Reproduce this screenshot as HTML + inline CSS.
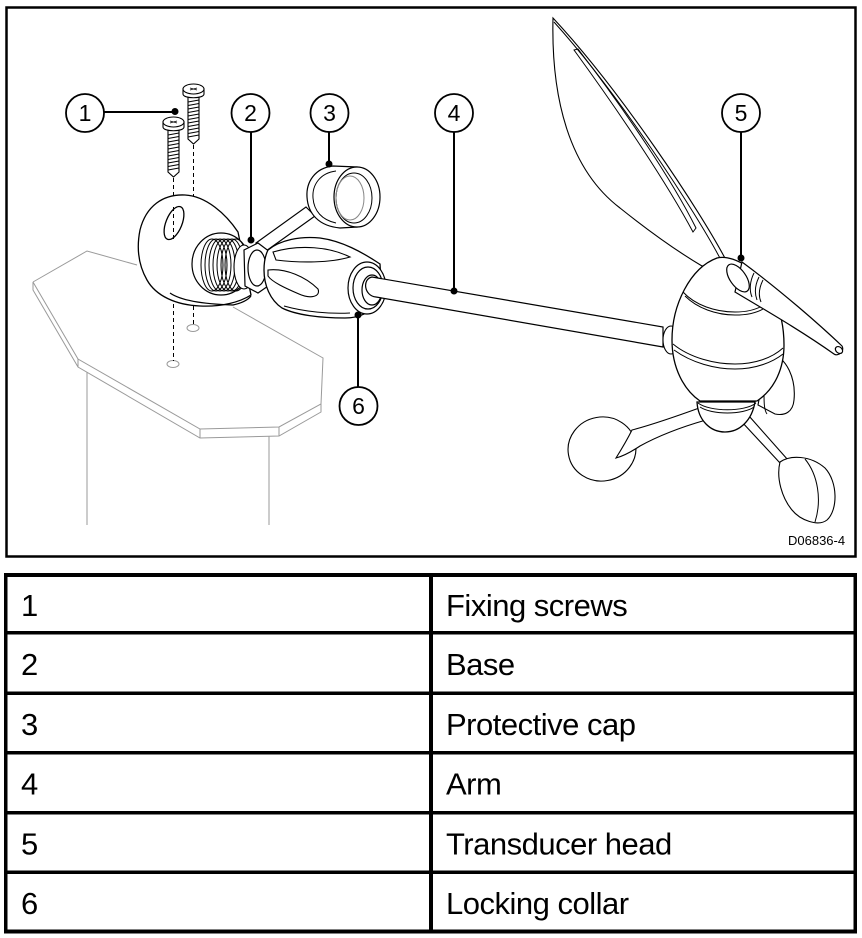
<!DOCTYPE html>
<html><head><meta charset="utf-8"><style>
html,body{margin:0;padding:0;background:#fff;}
svg{display:block;}
.t{font-family:"Liberation Sans",Arial,sans-serif;font-size:31px;letter-spacing:-0.5px;fill:#000;}
.c{font-family:"Liberation Sans",Arial,sans-serif;font-size:23px;fill:#000;text-anchor:middle;}
</style></head><body>
<svg width="862" height="938" viewBox="0 0 862 938" xmlns="http://www.w3.org/2000/svg">
<rect x="0" y="0" width="862" height="938" fill="#fff"/>
<!-- frame -->
<rect x="6.5" y="7.5" width="849" height="549" fill="none" stroke="#000" stroke-width="2.5"/>

<!-- platform (gray) -->
<g fill="none" stroke="#9a9a9a" stroke-width="1">
<path d="M33 282 L87 251 L137 265"/>
<path d="M233 307 L323 358 L321 404 L279 427 L200 429 L78 359 L33 282"/>
<path d="M33 282 L33 290 L78 367 L200 438 L279 436 L321 412 L321 404"/>
<path d="M78 359 L78 367 M200 429 L200 438 M279 427 L279 436"/>
<path d="M87 372 L87 525 M269 436 L269 525"/>
<ellipse cx="173" cy="364" rx="6" ry="3.5"/>
<ellipse cx="193" cy="328" rx="6" ry="3.5"/>
</g>

<!-- dashed lines -->
<g stroke="#000" stroke-width="1" stroke-dasharray="4,3" fill="none">
<path d="M173.5 178 L173.5 361"/>
<path d="M193.5 145 L193.5 325"/>
</g>

<!-- screws -->
<g stroke="#000" stroke-width="1.1" fill="#fff">
<path d="M168 129 L168 172 L173.5 177 L179 172 L179 129 Z"/>
<path d="M163 122 L163 127 C163 132 184 132 184 127 L184 122 Z"/>
<ellipse cx="173.5" cy="122" rx="10.5" ry="5"/>
<path d="M188 96 L188 139 L193.5 144 L199 139 L199 96 Z"/>
<path d="M183 89 L183 94 C183 99 204 99 204 94 L204 89 Z"/>
<ellipse cx="193.5" cy="89" rx="10.5" ry="5"/>
</g>
<g stroke="#000" stroke-width="0.9" fill="none">
<path d="M170 121 l7 2 M170 123 l7 -2 M190 88 l7 2 M190 90 l7 -2"/>
<path d="M168 135 l11 -2 M168 138.5 l11 -2 M168 142 l11 -2 M168 145.5 l11 -2 M168 149 l11 -2 M168 152.5 l11 -2 M168 156 l11 -2 M168 159.5 l11 -2 M168 163 l11 -2 M168 166.5 l11 -2 M168 170 l11 -2"/>
<path d="M188 102 l11 -2 M188 105.5 l11 -2 M188 109 l11 -2 M188 112.5 l11 -2 M188 116 l11 -2 M188 119.5 l11 -2 M188 123 l11 -2 M188 126.5 l11 -2 M188 130 l11 -2 M188 133.5 l11 -2 M188 137 l11 -2"/>
</g>

<!-- base -->
<g stroke="#000" stroke-width="1.3" fill="#fff">
<path d="M238 232 C226 214 206 196 185 195 C163 194 146 206 140 230 C136 250 139 266 147 280 C156 296 176 305 200 306 C222 307 240 302 251 295 Z"/>
<ellipse cx="174" cy="223" rx="8" ry="17.5" transform="rotate(22 174 223)"/>
</g>
<path d="M173.5 207 L173.5 239" stroke="#000" stroke-width="1" stroke-dasharray="4,3"/>
<path d="M170 293 C180 300 200 304 233 305 C242 303 248 300 251 296" fill="none" stroke="#000" stroke-width="1.2"/>
<!-- thread -->
<g stroke="#000" stroke-width="1.2" fill="#fff">
<ellipse cx="221" cy="264" rx="29" ry="31"/>
</g>
<g stroke="#000" stroke-width="1" fill="none">
<ellipse cx="212" cy="265" rx="11" ry="26"/>
<ellipse cx="216" cy="265" rx="11" ry="26"/>
<ellipse cx="220" cy="265" rx="11" ry="26"/>
<ellipse cx="224" cy="265" rx="11" ry="26"/>
<ellipse cx="228" cy="265" rx="11" ry="26"/>
<ellipse cx="232" cy="265" rx="11" ry="26"/>
<ellipse cx="236" cy="265" rx="11" ry="26"/>
</g>
<ellipse cx="244" cy="267" rx="10" ry="22" fill="#fff" stroke="#000" stroke-width="1.1"/>

<!-- cap strap -->
<path d="M256 243 L306 207 L315 216 L266 251 Z" fill="#fff" stroke="#000" stroke-width="1.1"/>
<!-- cap -->
<g stroke="#000" stroke-width="1.2" fill="#fff">
<path d="M333 166 C315 168 306 182 307 197 C308 214 319 226 340 228 L357 227 L357 167 Z"/>
<ellipse cx="357" cy="197" rx="23" ry="30"/>
</g>
<g stroke="#000" stroke-width="1" fill="none">
<path d="M336 171 C320 173 312 185 313 198 C314 211 322 220 336 223"/>
<ellipse cx="354" cy="198" rx="18" ry="25"/>
<ellipse cx="350" cy="198" rx="14" ry="22" stroke="#888"/>
</g>

<!-- hex -->
<g stroke="#000" stroke-width="1.2" fill="#fff">
<path d="M244 250 L258 243 L270 252 L271 284 L258 293 L245 286 Z"/>
<ellipse cx="257" cy="268" rx="9" ry="18"/>
</g>

<!-- grip / locking collar -->
<g stroke="#000" stroke-width="1.3" fill="#fff">
<path d="M268 250 C280 240 300 236 320 238 C342 241 362 252 380 264 L382 300 C372 312 360 318 345 318 C320 318 296 315 282 308 C270 300 264 285 264 270 C264 260 266 254 268 250 Z"/>
</g>
<g stroke="#000" stroke-width="1.1" fill="none">
<path d="M273 252 C300 244 330 247 350 257 C330 263 300 263 276 260 Z"/>
<path d="M268 270 C286 268 306 277 318 289 C321 297 310 299 299 294 C285 288 272 282 268 276 Z"/>
<path d="M284 306 C305 312 330 314 350 313"/>
</g>
<g stroke="#000" stroke-width="1.2" fill="#fff">
<ellipse cx="367" cy="288" rx="19" ry="26"/>
<ellipse cx="368" cy="288" rx="15" ry="21" fill="none"/>
<ellipse cx="372" cy="290" rx="10" ry="15"/>
</g>

<!-- arm -->
<path d="M372 277 L663 327 L663 347 L376 297 C364 296 362 279 372 277 Z" fill="#fff" stroke="#000" stroke-width="1.2"/>

<!-- vane fin -->
<g stroke="#000" stroke-width="1.1" fill="#fff">
<path d="M553 18 C551 100 570 170 620 208 C645 228 675 250 702 266 L727 262 C700 210 620 90 553 18 Z"/>
</g>
<g stroke="#000" stroke-width="1" fill="none">
<path d="M722 262 C695 210 617 92 554 22"/>
<path d="M574 50 C620 113 668 185 693 232 L696 228 C672 180 625 110 578 49 Z"/>
</g>

<!-- cup arms -->
<g stroke="#000" stroke-width="1.1" fill="#fff">
<ellipse cx="602" cy="449" rx="34" ry="32" transform="rotate(-10 602 449)"/>
<path d="M702 407 C680 415 655 424 632 430 C627 440 621 450 616 458 C624 456 631 452 640 446 C660 435 685 426 706 420 Z"/>
<path d="M741 421 L780 463 L788 460 L749 416 Z"/>
<path d="M780 462 C790 455 810 455 825 468 C838 482 838 510 827 520 C818 527 800 520 792 510 C782 498 776 478 780 462 Z"/>
</g>
<path d="M805 459 C818 475 822 500 815 522" fill="none" stroke="#000" stroke-width="1"/>

<!-- right fin -->
<path d="M768 352 C788 357 796 380 794 400 C793 412 785 416 775 414 L758 405 Z" fill="#fff" stroke="#000" stroke-width="1.1"/>
<path d="M764 392 C764 402 764 410 767 414" fill="none" stroke="#000" stroke-width="1"/>

<!-- knob -->
<ellipse cx="671" cy="340" rx="8" ry="14" fill="#fff" stroke="#000" stroke-width="1.1"/>

<!-- body -->
<g stroke="#000" stroke-width="1.3" fill="#fff">
<path d="M697 402 C698 420 710 432 725 432 C740 432 752 420 755 402 Z"/>
<path d="M717 258 C690 268 672 305 672 340 C672 368 684 390 700 401 L757 401 C775 389 784 368 784 345 C784 310 770 280 745 265 C735 259 725 256 717 258 Z"/>
</g>
<g stroke="#000" stroke-width="1" fill="none">
<path d="M683 292 C695 305 715 312 735 312 C745 312 755 310 762 306"/>
<path d="M685 296 C697 308 716 315 735 315 C746 315 756 313 763 309"/>
<path d="M673 344 C690 358 715 364 735 364 C755 364 772 358 783 348"/>
<path d="M674 350 C692 363 715 369 735 369 C756 369 773 362 783 354"/>
<path d="M698 403 C710 412 745 412 756 403"/>
<path d="M700 407 C712 415 743 415 754 407"/>
</g>

<!-- stick -->
<g stroke="#000" stroke-width="1.2" fill="#fff">
<path d="M742 262 C780 290 820 325 842 346 C845 351 838 357 834 354 C800 330 765 310 735 292 Z"/>
<ellipse cx="738" cy="278" rx="8" ry="16" transform="rotate(-35 738 278)"/>
<ellipse cx="839" cy="350" rx="4" ry="3" transform="rotate(40 839 350)"/>
</g>
<path d="M754 273 C750 281 749 290 752 297 M759 277 C755 285 754 292 757 300 M763 280 C759 288 758 295 761 302" fill="none" stroke="#000" stroke-width="1"/>

<!-- callouts -->
<g stroke="#000" stroke-width="2" fill="none">
<path d="M104 112 L175 112"/>
<path d="M251 132 L251 240"/>
<path d="M329 132 L329 164"/>
<path d="M454 132 L454 291"/>
<path d="M741 132 L741 258"/>
<path d="M358 315 L358 387"/>
</g>
<g fill="#000">
<circle cx="175" cy="111.5" r="3.5"/>
<circle cx="251" cy="240" r="3.5"/>
<circle cx="329" cy="164" r="3.5"/>
<circle cx="454" cy="291" r="3.5"/>
<circle cx="741" cy="258" r="3.5"/>
<circle cx="358" cy="315" r="3.5"/>
</g>
<g stroke="#000" stroke-width="1.8" fill="#fff">
<circle cx="85" cy="113" r="19"/>
<circle cx="250.5" cy="113" r="19"/>
<circle cx="329.5" cy="113" r="19"/>
<circle cx="454" cy="113" r="19"/>
<circle cx="741" cy="113" r="19"/>
<circle cx="358.5" cy="406" r="19"/>
</g>
<text class="c" x="85" y="121">1</text>
<text class="c" x="250.5" y="121">2</text>
<text class="c" x="329.5" y="121">3</text>
<text class="c" x="454" y="121">4</text>
<text class="c" x="741" y="121">5</text>
<text class="c" x="358.5" y="414">6</text>

<text x="788" y="545" style="font-family:'Liberation Sans',Arial,sans-serif;font-size:13px;fill:#000;">D06836-4</text>

<!-- table -->
<g fill="#000">
<rect x="4" y="573" width="853" height="4"/>
<rect x="4" y="631" width="853" height="3.5"/>
<rect x="4" y="691.5" width="853" height="3.5"/>
<rect x="4" y="751" width="853" height="3.5"/>
<rect x="4" y="811" width="853" height="3.5"/>
<rect x="4" y="870.5" width="853" height="3.5"/>
<rect x="4" y="929.5" width="853" height="4"/>
<rect x="4" y="573" width="3.5" height="360.5"/>
<rect x="429" y="573" width="4" height="360.5"/>
<rect x="853.5" y="573" width="3.5" height="360.5"/>
</g>
<text class="t" x="21" y="616">1</text>
<text class="t" x="446" y="616">Fixing screws</text>
<text class="t" x="21" y="675">2</text>
<text class="t" x="446" y="675">Base</text>
<text class="t" x="21" y="735">3</text>
<text class="t" x="446" y="735">Protective cap</text>
<text class="t" x="21" y="794.5">4</text>
<text class="t" x="446" y="794.5">Arm</text>
<text class="t" x="21" y="854.5">5</text>
<text class="t" x="446" y="854.5">Transducer head</text>
<text class="t" x="21" y="914">6</text>
<text class="t" x="446" y="914">Locking collar</text>
</svg>
</body></html>
